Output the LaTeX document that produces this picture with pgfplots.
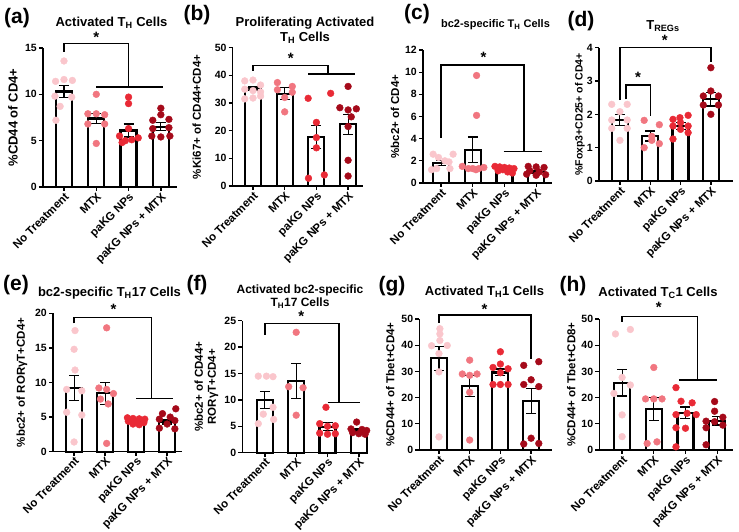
\documentclass[border=0pt]{standalone}
\usepackage{pgfplots}
\pgfplotsset{compat=1.18}
\usepackage{fontspec}
\setmainfont{Liberation Sans}
\definecolor{cA}{RGB}{250,198,204}
\definecolor{cB}{RGB}{241,118,128}
\definecolor{cC}{RGB}{233,42,54}
\definecolor{cD}{RGB}{165,10,26}
\pgfplotsset{
 panel/.style={
  scale only axis, anchor=south west,
  axis lines=left, axis line style={-, line width=1.5pt},
  tick style={line width=1.3pt, black}, tick align=outside, major tick length=4pt,
  ymin=0, xtick={0,1,2,3},
  xticklabels={No Treatment, MTX, paKG NPs, paKG NPs + MTX},
  xticklabel style={rotate=45, anchor=north east, font=\bfseries\fontsize{11.5}{12}\selectfont, inner sep=0.5pt},
  yticklabel style={font=\bfseries\fontsize{10.5}{11}\selectfont, inner sep=2pt},
  /pgf/number format/assume math mode=true,
  clip=false,
  ylabel style={anchor=center, align=center, font=\bfseries\fontsize{11.5}{13}\selectfont},
 },
 bars/.style={ybar, bar width=16pt, bar shift=0pt, fill=white, draw=none},
 outl/.style={ybar, bar width=16pt, bar shift=0pt, fill=none, draw=black, line width=2.2pt},
 dots/.style={only marks, mark=*, mark size=3.4pt, color=#1},
 errb/.style={draw=none, mark=none, error bars/y dir=both, error bars/y explicit,
   error bars/error bar style={draw=black, line width=1.1pt},
   error bars/error mark options={rotate=90, mark size=5pt, line width=1.1pt, draw=black}},
}
\tikzset{brk/.style={line width=1.4pt, black}, star/.style={font=\bfseries\fontsize{15}{15}\selectfont, inner sep=0pt},
 ttl/.style={font=\bfseries\fontsize{13}{15}\selectfont, align=center},
 lett/.style={font=\bfseries\fontsize{21}{22}\selectfont}}
\begin{document}
\begin{tikzpicture}[x=1pt,y=1pt]
\path[use as bounding box] (0,0) rectangle (739,532);
% titles and letters
\node[lett] at (17,514) {(a)};
\node[lett] at (197,517) {(b)};
\node[lett] at (417,518) {(c)};
\node[lett] at (581,511) {(d)};
\node[lett] at (16,247) {(e)};
\node[lett] at (197,247) {(f)};
\node[lett] at (392,246) {(g)};
\node[lett] at (573,246) {(h)};
\node[ttl] at (111.5,509) {Activated T\textsubscript{H} Cells};
\node[ttl] at (305,501.5) {Proliferating Activated\\T\textsubscript{H} Cells};
\node[ttl, font=\bfseries\fontsize{11}{13}\selectfont] at (495.5,507) {bc2-specific T\textsubscript{H} Cells};
\node[ttl] at (663,506) {T\textsubscript{REGs}};
\node[ttl] at (109.5,239) {bc2-specific T\textsubscript{H}17 Cells};
\node[ttl, font=\bfseries\fontsize{12}{13.5}\selectfont] at (300,235.5) {Activated bc2-specific\\T\textsubscript{H}17 Cells};
\node[ttl] at (484.5,240) {Activated T\textsubscript{H}1 Cells};
\node[ttl] at (658,239) {Activated T\textsubscript{C}1 Cells};

% (a)
\begin{axis}[panel, at={(43pt,345pt)}, width=134pt, height=139pt, xmin=-0.65, xmax=3.5, ymax=15, ytick={0,5,10,15},
 ylabel={\%CD44 of CD4+}, ylabel style={at={([xshift=-30pt]axis description cs:0,0.5)}, font=\bfseries\fontsize{13}{15}\selectfont}]
\addplot[bars] coordinates {(0,10.3) (1,7.4) (2,6.1) (3,6.5)};
\addplot[dots=cA] coordinates {(0,13.6) (-0.26,11.4) (0,11.6) (0.26,11.5) (-0.28,9.8) (0.24,9.7) (-0.12,8.7) (-0.25,7.2)};
\addplot[dots=cB] coordinates {(1,10.0) (0.74,7.9) (1,7.9) (1.26,7.8) (0.74,6.8) (1.26,6.8) (1,4.7)};
\addplot[dots=cC] coordinates {(2,9.7) (2,9.0) (2,6.3) (1.72,5.5) (1.9,5.0) (2.1,5.1) (2.3,5.3) (1.8,4.8)};
\addplot[dots=cD] coordinates {(3,8.5) (3,7.8) (2.75,7.2) (3.25,7.3) (2.75,6.3) (3.25,6.4) (2.72,5.5) (3,5.4) (3.28,5.5)};
\addplot[outl] coordinates {(0,10.3) (1,7.4) (2,6.1) (3,6.5)};
\addplot[errb] coordinates {(0,10.3) +- (0,0.65) (1,7.4) +- (0,0.55) (2,6.1) +- (0,0.7) (3,6.5) +- (0,0.45)};
\draw[brk] (axis cs:0,14.6) |- (axis cs:2,15.5) -- (axis cs:2,10.8);
\draw[brk] (axis cs:1,10.8) -- (axis cs:3.07,10.8);
\node[star] at (axis cs:1,16.2) {*};
\end{axis}

% (b)
\begin{axis}[panel, at={(232.7pt,346pt)}, width=130.3pt, height=138.3pt, xmin=-0.64, xmax=3.47, ymax=50, ytick={0,10,20,30,40,50},
 ylabel={\%Ki67+ of CD44+CD4+}, ylabel style={at={([xshift=-36pt]axis description cs:0,0.5)}}]
\addplot[bars] coordinates {(0,35.3) (1,33.4) (2,17.6) (3,22.3)};
\addplot[dots=cA] coordinates {(-0.26,38.0) (0,38.3) (0.24,36.5) (-0.26,35.0) (0,34.5) (0.24,34.0) (-0.26,31.5) (0,31.8) (0.24,32.5)};
\addplot[dots=cB] coordinates {(0.77,37.4) (1.24,36.0) (0.77,34.8) (1.24,33.9) (1,32.0) (1,26.8)};
\addplot[dots=cC] coordinates {(1.74,31.7) (2.45,33.5) (2,23.0) (2,17.5) (2,13.8) (2.25,4.0) (1.75,2.8)};
\addplot[dots=cD] coordinates {(3,36.0) (2.74,28.3) (3,27.5) (3.26,27.9) (3.1,25.0) (3,21.5) (3,9.3) (3,3.6)};
\addplot[outl] coordinates {(0,35.3) (1,33.4) (2,17.6) (3,22.3)};
\addplot[errb] coordinates {(0,35.4) +- (0,0.7) (1,33.4) +- (0,2.2) (2,17.6) +- (0,4.2) (3,22.3) +- (0,3.6)};
\draw[brk] (axis cs:0,41.7) |- (axis cs:2.37,43.5) -- (axis cs:2.37,40.5);
\draw[brk] (axis cs:1.74,40.5) -- (axis cs:3.21,40.5);
\node[star] at (axis cs:1.19,46.3) {*};
\end{axis}

% (c)
\begin{axis}[panel, at={(423pt,349pt)}, width=129pt, height=133pt, xmin=-0.57, xmax=3.5, ymax=12, ytick={0,2,4,6,8,10,12},
 ylabel={\%bc2+ of CD4+}, ylabel style={at={([xshift=-28pt]axis description cs:0,0.5)}}]
\addplot[bars] coordinates {(0,1.8) (1,3.0) (2,1.2) (3,1.0)};
\addplot[dots=cA] coordinates {(-0.25,2.6) (0.38,2.6) (-0.08,2.3) (0.12,2.0) (0.25,1.9) (-0.14,1.3) (0.28,1.3) (-0.3,1.2)};
\addplot[dots=cB] coordinates {(1.12,9.7) (1.12,6.1) (0.67,1.5) (0.86,1.3) (1.0,1.3) (1.19,1.3) (1.35,1.4) (1.1,1.2)};
\addplot[dots=cC] coordinates {(1.7,1.5) (1.85,1.45) (2.0,1.4) (2.15,1.35) (2.3,1.3) (1.8,1.1) (2.1,1.0) (2.25,0.9) (1.95,1.2)};
\addplot[dots=cD] coordinates {(2.75,1.5) (3.0,1.45) (3.25,1.4) (2.8,1.1) (3.1,1.0) (2.7,0.8) (3.3,0.75) (3.0,0.7)};
\addplot[outl] coordinates {(0,1.8) (1,3.0) (2,1.2) (3,1.0)};
\addplot[errb] coordinates {(0,1.8) +- (0,0.2) (1,3.0) +- (0,1.15) (2,1.2) +- (0,0.1) (3,1.0) +- (0,0.12)};
\draw[brk] (axis cs:0,4.1) |- (axis cs:2.62,10.65) -- (axis cs:2.62,2.85);
\draw[brk] (axis cs:1.97,2.85) -- (axis cs:3.2,2.85);
\node[star] at (axis cs:1.34,11.3) {*};
\end{axis}

% (d)
\begin{axis}[panel, at={(599pt,351pt)}, width=134pt, height=133.3pt, xmin=-0.69, xmax=3.73, ymax=4, ytick={0,1,2,3,4},
 ylabel={\%Foxp3+CD25+ of CD4+}, ylabel style={at={([xshift=-19pt]axis description cs:0,0.5)}, font=\bfseries\fontsize{10.5}{12}\selectfont}]
\addplot[bars] coordinates {(0,1.83) (1,1.35) (2,1.65) (3,2.45)};
\addplot[dots=cA] coordinates {(-0.27,2.3) (0.24,2.3) (0,2.08) (-0.27,1.83) (0.24,1.83) (-0.27,1.58) (0.24,1.58) (0,1.22)};
\addplot[dots=cB] coordinates {(0.8,1.82) (1.3,1.69) (1.05,1.34) (0.8,1.0) (1.3,1.12) (1.05,1.22)};
\addplot[dots=cC] coordinates {(1.75,1.85) (1.98,1.9) (2.25,1.97) (2.0,1.75) (2.25,1.65) (1.75,1.65) (2.25,1.45) (1.75,1.26) (2.0,1.55)};
\addplot[dots=cD] coordinates {(3,3.4) (3,2.7) (2.75,2.55) (3.25,2.55) (2.75,2.28) (3.25,2.28) (3,2.0)};
\addplot[outl] coordinates {(0,1.83) (1,1.35) (2,1.65) (3,2.45)};
\addplot[errb] coordinates {(0,1.83) +- (0,0.17) (1,1.35) +- (0,0.15) (2,1.65) +- (0,0.1) (3,2.45) +- (0,0.2)};
\draw[brk] (axis cs:0,2.43) |- (axis cs:3,4.0) -- (axis cs:3,3.58);
\node[star] at (axis cs:1.48,4.22) {*};
\draw[brk] (axis cs:0.2,2.45) |- (axis cs:1,2.88) -- (axis cs:1,1.95);
\node[star] at (axis cs:0.6,3.1) {*};
\end{axis}

% (e)
\begin{axis}[panel, at={(53pt,80.3pt)}, width=129pt, height=138.4pt, xmin=-0.68, xmax=3.48, ymax=20, ytick={0,5,10,15,20},
 ylabel={\%bc2+ of RORγT+CD4+}, ylabel style={at={([xshift=-31pt]axis description cs:0,0.5)}}]
\addplot[bars] coordinates {(0,9.25) (1,8.45) (2,4.35) (3,4.35)};
\addplot[dots=cA] coordinates {(0.03,17.5) (0,14.8) (0.03,11.8) (-0.24,9.0) (0.25,8.8) (-0.24,5.7) (0.25,5.3) (0,1.4)};
\addplot[dots=cB] coordinates {(1.05,17.9) (0.8,9.2) (1.05,9.0) (1.27,8.4) (0.85,7.6) (1.1,6.9) (1.05,1.2)};
\addplot[dots=cC] coordinates {(1.72,4.9) (1.9,4.8) (2.1,4.75) (2.28,4.7) (1.75,4.4) (2.0,4.3) (2.25,4.2) (1.9,4.0) (2.1,3.9)};
\addplot[dots=cD] coordinates {(3.28,6.2) (2.85,5.5) (3.1,5.0) (2.75,4.7) (3.25,4.5) (3.0,4.0) (2.75,3.4) (3.25,3.3)};
\addplot[outl] coordinates {(0,9.25) (1,8.45) (2,4.35) (3,4.35)};
\addplot[errb] coordinates {(0,9.25) +- (0,1.8) (1,8.45) +- (0,1.6) (2,4.35) +- (0,0.2) (3,4.35) +- (0,0.35)};
\draw[brk] (axis cs:0,18.55) |- (axis cs:2.5,19.4) -- (axis cs:2.5,7.7);
\draw[brk] (axis cs:2,7.7) -- (axis cs:3.2,7.7);
\node[star] at (axis cs:1.27,20.6) {*};
\end{axis}

% (f)
\begin{axis}[panel, at={(242.3pt,79.3pt)}, width=124.7pt, height=132pt, xmin=-0.72, xmax=3.26, ymax=25, ytick={0,5,10,15,20,25},
 ylabel={\%bc2+ of CD44+\\RORγT+CD4+}, ylabel style={at={([xshift=-36pt]axis description cs:0,0.5)}}]
\addplot[bars] coordinates {(0,10.0) (1,13.6) (2,4.9) (3,4.2)};
\addplot[dots=cA] coordinates {(-0.21,14.5) (0.05,14.5) (0.26,14.4) (0.26,8.6) (-0.05,7.3) (0.28,6.3) (-0.21,5.5)};
\addplot[dots=cB] coordinates {(1.0,22.8) (0.76,12.5) (1.22,12.3) (1.0,7.1)};
\addplot[dots=cC] coordinates {(1.95,8.6) (1.75,5.5) (2.0,5.0) (2.25,5.1) (1.75,3.7) (2.0,3.5) (2.25,3.6)};
\addplot[dots=cD] coordinates {(2.93,5.8) (2.75,4.5) (3.1,4.4) (3.25,4.2) (2.8,3.8) (3.0,3.6) (3.2,3.5)};
\addplot[outl] coordinates {(0,10.0) (1,13.6) (2,4.9) (3,4.2)};
\addplot[errb] coordinates {(0,10.0) +- (0,1.6) (1,13.6) +- (0,3.3) (2,4.9) +- (0,0.75) (3,4.2) +- (0,0.3)};
\draw[brk] (axis cs:0,22.3) |- (axis cs:2.37,24.5) -- (axis cs:2.37,9.5);
\draw[brk] (axis cs:2,9.5) -- (axis cs:3.03,9.5);
\node[star] at (axis cs:1.16,25.8) {*};
\end{axis}

% (g)
\begin{axis}[panel, at={(419.3pt,82pt)}, width=132.7pt, height=131pt, xmin=-0.64, xmax=3.68, ymax=50, ytick={0,10,20,30,40,50},
 ylabel={\%CD44+ of Tbet+CD4+}, ylabel style={at={([xshift=-29pt]axis description cs:0,0.5)}}]
\addplot[bars] coordinates {(0,35.0) (1,24.4) (2,29.6) (3,18.6)};
\addplot[dots=cA] coordinates {(0.03,46.3) (0.03,44.3) (0.03,41.8) (-0.24,39.8) (0.27,39.9) (0,36.8) (0,29.8) (0,5.0)};
\addplot[dots=cB] coordinates {(1,34.3) (0.76,29.0) (1.24,29.0) (1,28.5) (1,22.0) (1,3.8)};
\addplot[dots=cC] coordinates {(2,37.5) (2,32.8) (1.76,31.5) (2.25,31.0) (2,29.5) (1.76,25.0) (2,25.0) (2.25,25.0)};
\addplot[dots=cD] coordinates {(3.25,33.7) (2.76,32.3) (3,26.8) (2.76,25.0) (3.25,24.2) (3,4.5) (2.76,2.3) (3.25,2.5)};
\addplot[outl] coordinates {(0,35.0) (1,24.4) (2,29.6) (3,18.6)};
\addplot[errb] coordinates {(0,35.0) +- (0,4.6) (1,24.4) +- (0,3.9) (2,29.6) +- (0,1.3) (3,18.6) +- (0,4.8)};
\draw[brk] (axis cs:0,48.6) |- (axis cs:3,51.5) -- (axis cs:3,34.6);
\node[star] at (axis cs:1.48,53.8) {*};
\end{axis}

% (h)
\begin{axis}[panel, at={(599.3pt,82pt)}, width=133.7pt, height=131pt, xmin=-0.72, xmax=3.5, ymax=50, ytick={0,10,20,30,40,50},
 ylabel={\%CD44+ of Tbet+CD8+}, ylabel style={at={([xshift=-28pt]axis description cs:0,0.5)}}]
\addplot[bars] coordinates {(0,25.7) (1,15.6) (2,14.2) (3,11.2)};
\addplot[dots=cA] coordinates {(-0.21,44.3) (0.26,46.0) (0,27.7) (0.26,24.8) (-0.26,21.6) (0,13.4) (0,5.1)};
\addplot[dots=cB] coordinates {(1,31.5) (0.74,19.5) (1,19.5) (1.26,19.5) (0.79,2.5) (1.1,3.1)};
\addplot[dots=cC] coordinates {(1.7,23.8) (1.86,18.6) (2.21,18.0) (2.05,14.0) (1.7,13.5) (2.34,13.5) (1.7,8.5) (2.0,8.3) (1.7,1.2)};
\addplot[dots=cD] coordinates {(2.92,18.5) (2.92,14.8) (3.18,12.5) (2.65,11.0) (2.92,10.8) (3.18,9.5) (2.65,8.5) (2.65,2.0)};
\addplot[outl] coordinates {(0,25.7) (1,15.6) (2,14.2) (3,11.2)};
\addplot[errb] coordinates {(0,25.7) +- (0,5.1) (1,15.6) +- (0,4.5) (2,14.2) +- (0,2.2) (3,11.2) +- (0,1.65)};
\draw[brk] (axis cs:0,49.0) |- (axis cs:2.37,50.9) -- (axis cs:2.37,26.7);
\draw[brk] (axis cs:1.79,26.7) -- (axis cs:3,26.7);
\node[star] at (axis cs:1.16,54.3) {*};
\end{axis}
\end{tikzpicture}
\end{document}
